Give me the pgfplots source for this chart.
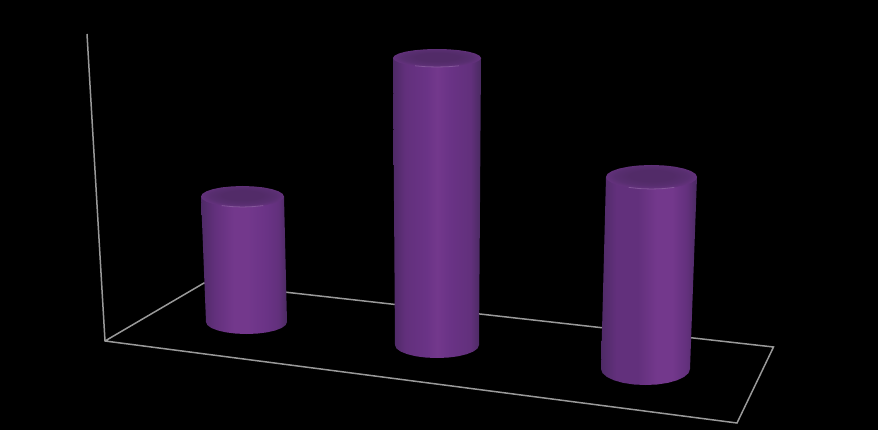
\documentclass[border=0pt]{standalone}
\usepackage{pgfplots}
\pgfplotsset{compat=1.18}
\usepackage{xcolor}

% cylinder side colours, dark edge to highlight to dark edge
\definecolor{edgeL}{HTML}{4E2A66}
\definecolor{sideA}{HTML}{62307C}
\definecolor{sideB}{HTML}{6A3386}
\definecolor{sideH}{HTML}{73388C}
\definecolor{edgeR}{HTML}{492A60}
\pgfdeclarehorizontalshading{cylone}{100bp}{color(0bp)=(edgeL); color(25bp)=(edgeL); color(33bp)=(sideA); color(44bp)=(sideH); color(52bp)=(sideH); color(63bp)=(sideB); color(70bp)=(sideA); color(75bp)=(edgeR); color(100bp)=(edgeR)}
\pgfdeclarehorizontalshading{cyltwo}{100bp}{color(0bp)=(edgeL); color(25bp)=(edgeL); color(32bp)=(sideA); color(44bp)=(sideB); color(50bp)=(sideH); color(57bp)=(sideB); color(69bp)=(sideA); color(75bp)=(edgeR); color(100bp)=(edgeR)}
\pgfdeclarehorizontalshading{cylthree}{100bp}{color(0bp)=(edgeL); color(25bp)=(edgeL); color(33bp)=(sideA); color(44bp)=(sideA); color(54bp)=(sideH); color(62bp)=(sideH); color(70bp)=(sideA); color(75bp)=(edgeR); color(100bp)=(edgeR)}
% cap: dark centre pushed back, lighter towards the front rim
\definecolor{capC}{HTML}{522B68}
\definecolor{capM}{HTML}{582E70}
\definecolor{capR}{HTML}{6B3485}
\pgfdeclareradialshading{capshade}{\pgfpoint{0bp}{4bp}}{color(0bp)=(capC); color(12bp)=(capC); color(20bp)=(capM); color(29bp)=(capR); color(50bp)=(capR)}

\begin{document}
\begin{tikzpicture}
\begin{axis}[
    scale only axis,
    width=878pt, height=430pt,
    xmin=0, xmax=878, ymin=0, ymax=430,
    y dir=reverse,
    axis lines=none,
    axis background/.style={fill=black},
]
    % frame: wall and floor
    \addplot[color=black!40!white, line width=1.5pt, line join=miter] coordinates {
        (87,34) (105,341) (737,423) (773.5,347) (204,283) (105,341)
    };

    % cylinder 1
    \addplot[draw=none, shading=cylone] coordinates {
        (201,196.5) (206,322) (207.4,325.1) (211.4,328) (217.9,330.5) (226.25,332.4) (236,333.6) (246.5,334) (257,333.6) (266.75,332.4) (275.1,330.5) (281.6,328) (285.6,325.1) (287,322) (284,196.5)
    } -- cycle;
    \addplot[draw=none, shading=capshade] coordinates {
        (201,196.5) (202.4,199.2) (206.6,201.75) (213.2,203.9) (221.75,205.6) (231.8,206.6) (242.5,207) (253.2,206.6) (263.25,205.6) (271.8,203.9) (278.4,201.75) (282.6,199.2) (284,196.5) (282.6,193.8) (278.4,191.25) (271.8,189.1) (263.25,187.4) (253.2,186.4) (242.5,186) (231.8,186.4) (221.75,187.4) (213.2,189.1) (206.6,191.25) (202.4,193.8)
    } -- cycle;
    \addplot[color=sideH!70!white, line width=0.8pt, opacity=0.55] coordinates {
        (221.75,205.6) (231.8,206.6) (242.5,207) (253.2,206.6) (263.25,205.6)
    };

    % cylinder 2
    \addplot[draw=none, shading=cyltwo] coordinates {
        (393,58) (395,345) (396.4,348.4) (400.6,351.5) (407.3,354.2) (416,356.3) (426.1,357.6) (437,358) (447.9,357.6) (458,356.3) (466.7,354.2) (473.4,351.5) (477.6,348.4) (479,345) (481,58)
    } -- cycle;
    \addplot[draw=none, shading=capshade] coordinates {
        (393,58) (394.5,60.3) (398.9,62.5) (405.9,64.4) (415,65.8) (425.6,66.7) (437,67) (448.4,66.7) (459,65.8) (468.1,64.4) (475.1,62.5) (479.5,60.3) (481,58) (479.5,55.7) (475.1,53.5) (468.1,51.6) (459,50.2) (448.4,49.3) (437,49) (425.6,49.3) (415,50.2) (405.9,51.6) (398.9,53.5) (394.5,55.7)
    } -- cycle;
    \addplot[color=sideH!70!white, line width=0.8pt, opacity=0.55] coordinates {
        (415,65.8) (425.6,66.7) (437,67) (448.4,66.7) (459,65.8)
    };

    % cylinder 3
    \addplot[draw=none, shading=cylthree] coordinates {
        (606,177) (601,369) (602.5,373.1) (607,377) (614,380.3) (623.25,382.9) (634,384.5) (645.5,385) (657,384.5) (667.75,382.9) (677,380.3) (684,377) (688.5,373.1) (690,369) (697,177)
    } -- cycle;
    \addplot[draw=none, shading=capshade] coordinates {
        (606,177) (607.5,180.1) (612.1,183) (619.3,185.5) (628.75,187.4) (639.7,188.6) (651.5,189) (663.3,188.6) (674.25,187.4) (683.7,185.5) (690.9,183) (695.5,180.1) (697,177) (695.5,173.9) (690.9,171) (683.7,168.5) (674.25,166.6) (663.3,165.4) (651.5,165) (639.7,165.4) (628.75,166.6) (619.3,168.5) (612.1,171) (607.5,173.9)
    } -- cycle;
    \addplot[color=sideH!70!white, line width=0.8pt, opacity=0.55] coordinates {
        (628.75,187.4) (639.7,188.6) (651.5,189) (663.3,188.6) (674.25,187.4)
    };
\end{axis}
\end{tikzpicture}
\end{document}
